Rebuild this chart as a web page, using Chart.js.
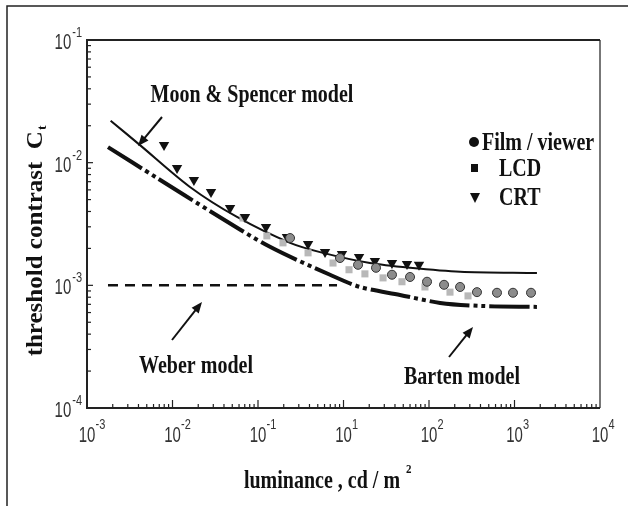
<!DOCTYPE html>
<html>
<head>
<meta charset="utf-8">
<script src="https://cdn.jsdelivr.net/npm/chart.js@4/dist/chart.umd.min.js"></script>
<style>
  body { margin: 0; background: #fff; }
  #wrap { width: 628px; height: 506px; }
</style>
</head>
<body>
<div id="wrap"><canvas id="myChart" width="628" height="506"></canvas></div>
<script>
// tick labels as printed on the figure (x labels skip 10^0)
const xTickExps = ['-3', '-2', '-1', '1', '2', '3', '4'];
const yTickExps = ['-1', '-2', '-3', '-4'];

// model curves
const moonX = [0.00189, 0.00417, 0.0160, 0.0568, 0.237, 0.575, 2.04, 6.0, 23.1, 183];
const moonY = [0.0220, 0.0139, 0.00634, 0.00361, 0.00222, 0.00184, 0.00152, 0.00139, 0.00129, 0.00126];

const bartenX = [0.00176, 0.00659, 0.0298, 0.138, 0.695, 1.56, 4.58, 13.5, 39.5, 183];
const bartenY = [0.0134, 0.0075, 0.00389, 0.00206, 0.00122, 0.00097, 0.000835, 0.000719, 0.00068, 0.000667];

const weberX = [0.00176, 0.84];
const weberY = [0.001, 0.001];

// measurements
const filmX = [0.237, 0.910, 1.48, 2.40, 3.69, 6.0, 9.48, 15.0, 23.1, 36.4, 62.4, 96, 156];
const filmY = [0.00243, 0.00167, 0.00147, 0.00139, 0.00122, 0.00117, 0.00107, 0.00101, 0.00097, 0.00088, 0.00087, 0.00087, 0.00087];

const lcdX = [0.0668, 0.127, 0.196, 0.385, 0.754, 1.16, 1.78, 2.90, 4.83, 8.97, 17.6, 28.6];
const lcdY = [0.00354, 0.00253, 0.00222, 0.00184, 0.00152, 0.00134, 0.00124, 0.00115, 0.00107, 0.00097, 0.00088, 0.00082];

const crtX = [0.00796, 0.0113, 0.0178, 0.0282, 0.0471, 0.0705, 0.124, 0.218, 0.385, 0.608, 0.96, 1.52, 2.33, 3.69, 5.53, 7.64];
const crtY = [0.0139, 0.00906, 0.00723, 0.00577, 0.00427, 0.00361, 0.00299, 0.00248, 0.00217, 0.00187, 0.00180, 0.00170, 0.00158, 0.00152, 0.00149, 0.00147];

function pts(xs, ys) {
    return xs.map((x, i) => ({ x: x, y: ys[i] }));
}

const SERIF = '"Liberation Serif", "Times New Roman", serif';
const SANS = '"Liberation Sans", Arial, sans-serif';

// text stretched vertically like the scanned figure
function txt(ctx, s, x, y, font, align, sy) {
    ctx.save();
    ctx.translate(x, y);
    ctx.scale(1, sy || 1);
    ctx.font = font;
    ctx.textAlign = align || 'left';
    ctx.textBaseline = 'middle';
    ctx.fillText(s, 0, 0);
    ctx.restore();
}

function arrow(ctx, x1, y1, x2, y2) {
    const a = Math.atan2(y2 - y1, x2 - x1);
    ctx.save();
    ctx.strokeStyle = '#111';
    ctx.fillStyle = '#111';
    ctx.lineWidth = 2;
    ctx.beginPath();
    ctx.moveTo(x1, y1);
    ctx.lineTo(x2 - 6 * Math.cos(a), y2 - 6 * Math.sin(a));
    ctx.stroke();
    ctx.beginPath();
    ctx.moveTo(x2, y2);
    ctx.lineTo(x2 - 11 * Math.cos(a) + 4.5 * Math.sin(a), y2 - 11 * Math.sin(a) - 4.5 * Math.cos(a));
    ctx.lineTo(x2 - 11 * Math.cos(a) - 4.5 * Math.sin(a), y2 - 11 * Math.sin(a) + 4.5 * Math.cos(a));
    ctx.closePath();
    ctx.fill();
    ctx.restore();
}

const decor = {
    id: 'decor',
    afterDraw(chart) {
        const ctx = chart.ctx;
        const xs = chart.scales.x, ys = chart.scales.y;
        const a = chart.chartArea;
        ctx.save();

        // outer picture border
        ctx.strokeStyle = '#222';
        ctx.lineWidth = 1.5;
        ctx.beginPath();
        ctx.moveTo(7, 506);
        ctx.lineTo(7, 6);
        ctx.lineTo(628, 6);
        ctx.stroke();

        // plot frame
        ctx.lineWidth = 2;
        ctx.strokeStyle = '#777';
        ctx.beginPath();
        ctx.moveTo(a.right, a.top);
        ctx.lineTo(a.right, a.bottom);
        ctx.stroke();
        ctx.strokeStyle = '#222';
        ctx.beginPath();
        ctx.moveTo(a.right, a.top);
        ctx.lineTo(a.left, a.top);
        ctx.lineTo(a.left, a.bottom);
        ctx.lineTo(a.right, a.bottom);
        ctx.stroke();

        // inward tick marks
        ctx.lineWidth = 1.2;
        for (let e = -3; e < 3; e++) {
            for (let m = 1; m <= 9; m++) {
                if (m === 1 && e === -3) continue;
                const px = xs.getPixelForValue(m * Math.pow(10, e));
                const len = m === 1 ? 8 : 4;
                ctx.beginPath();
                ctx.moveTo(px, a.bottom);
                ctx.lineTo(px, a.bottom - len);
                ctx.stroke();
            }
        }
        for (let e = -4; e < -1; e++) {
            for (let m = 1; m <= 9; m++) {
                if (m === 1 && e === -4) continue;
                const py = ys.getPixelForValue(m * Math.pow(10, e));
                const len = m === 1 ? 6 : 4;
                ctx.beginPath();
                ctx.moveTo(a.left, py);
                ctx.lineTo(a.left + len, py);
                ctx.stroke();
            }
        }

        // tick labels
        ctx.fillStyle = '#333';
        xTickExps.forEach((ex, i) => {
            const px = xs.getPixelForValue(Math.pow(10, i - 3));
            txt(ctx, '10', px, a.bottom + 28, '15px ' + SANS, 'center', 1.45);
            txt(ctx, ex, px + 8.5, a.bottom + 17, '11px ' + SANS, 'left', 1.3);
        });
        yTickExps.forEach((ex, i) => {
            const py = ys.getPixelForValue(Math.pow(10, -1 - i));
            ctx.font = '11px ' + SANS;
            const w = ctx.measureText(ex).width;
            txt(ctx, ex, 82 - w, py - 7, '11px ' + SANS, 'left', 1.3);
            txt(ctx, '10', 82 - w - 1, py + 3, '15px ' + SANS, 'right', 1.45);
        });

        // axis titles
        ctx.fillStyle = '#111';
        txt(ctx, 'luminance , cd / m', 322, 481, 'bold 20px ' + SERIF, 'center', 1.3);
        ctx.font = 'bold 20px ' + SERIF;
        const lw = ctx.measureText('luminance , cd / m').width;
        txt(ctx, '2', 322 + lw / 2 + 6, 470, 'bold 11px ' + SERIF, 'left', 1.2);

        ctx.save();
        ctx.translate(36, 240);
        ctx.rotate(-Math.PI / 2);
        ctx.scale(1.25, 1.15);
        ctx.font = 'bold 20px ' + SERIF;
        ctx.textBaseline = 'middle';
        const t1 = 'threshold contrast  C';
        const w1 = ctx.measureText(t1).width;
        ctx.fillText(t1, -w1 / 2 - 3, 0);
        ctx.font = 'bold 11px ' + SERIF;
        ctx.fillText('t', w1 / 2 - 2, 6);
        ctx.restore();

        // annotations
        txt(ctx, 'Moon & Spencer model', 252, 95, 'bold 20px ' + SERIF, 'center', 1.3);
        txt(ctx, 'Weber model', 196, 366, 'bold 20px ' + SERIF, 'center', 1.3);
        txt(ctx, 'Barten model', 462, 377, 'bold 20px ' + SERIF, 'center', 1.3);
        arrow(ctx, 162, 117, 138, 146);
        arrow(ctx, 172, 340, 202, 302);
        arrow(ctx, 449, 357, 473, 327);

        // legend
        ctx.fillStyle = '#111';
        ctx.beginPath();
        ctx.arc(474, 142, 5, 0, Math.PI * 2);
        ctx.fill();
        ctx.fillRect(471, 164, 7, 8);
        ctx.beginPath();
        ctx.moveTo(470, 193);
        ctx.lineTo(480, 193);
        ctx.lineTo(475, 203);
        ctx.closePath();
        ctx.fill();
        txt(ctx, 'Film / viewer', 482, 143, 'bold 20px ' + SERIF, 'left', 1.3);
        txt(ctx, 'LCD', 499, 169, 'bold 20px ' + SERIF, 'left', 1.3);
        txt(ctx, 'CRT', 499, 198, 'bold 20px ' + SERIF, 'left', 1.3);

        ctx.restore();
    }
};

const config = {
    type: 'scatter',
    data: {
        datasets: [
            {
                label: 'Film / viewer',
                data: pts(filmX, filmY),
                pointStyle: 'circle',
                pointRadius: 4.5,
                backgroundColor: '#8c8c8c',
                borderColor: '#333',
                borderWidth: 1,
                order: 0
            },
            {
                label: 'LCD',
                data: pts(lcdX, lcdY),
                pointStyle: 'rect',
                pointRadius: 5,
                backgroundColor: '#b8b8b8',
                borderColor: '#b8b8b8',
                borderWidth: 0,
                order: 1
            },
            {
                label: 'CRT',
                data: pts(crtX, crtY),
                pointStyle: 'triangle',
                rotation: 180,
                pointRadius: 6,
                backgroundColor: '#111',
                borderColor: '#111',
                borderWidth: 0,
                order: 0
            },
            {
                label: 'Moon & Spencer model',
                data: pts(moonX, moonY),
                showLine: true,
                pointRadius: 0,
                borderColor: '#111',
                borderWidth: 2,
                tension: 0.3,
                order: 2
            },
            {
                label: 'Barten model',
                data: pts(bartenX, bartenY),
                showLine: true,
                pointRadius: 0,
                borderColor: '#111',
                borderWidth: 4,
                borderDash: [40, 4, 4, 4, 4, 4],
                tension: 0.3,
                order: 2
            },
            {
                label: 'Weber model',
                data: pts(weberX, weberY),
                showLine: true,
                pointRadius: 0,
                borderColor: '#111',
                borderWidth: 2.5,
                borderDash: [10, 7],
                order: 2
            }
        ]
    },
    options: {
        responsive: false,
        animation: false,
        layout: { padding: { left: 87, right: 28, top: 40, bottom: 98 } },
        plugins: {
            legend: { display: false },
            tooltip: { enabled: false }
        },
        scales: {
            x: { type: 'logarithmic', min: 0.001, max: 1000, display: false },
            y: { type: 'logarithmic', min: 0.0001, max: 0.1, display: false }
        }
    },
    plugins: [decor]
};

const ctx = document.querySelector('#myChart').getContext('2d');
new Chart(ctx, config);
</script>
</body>
</html>
